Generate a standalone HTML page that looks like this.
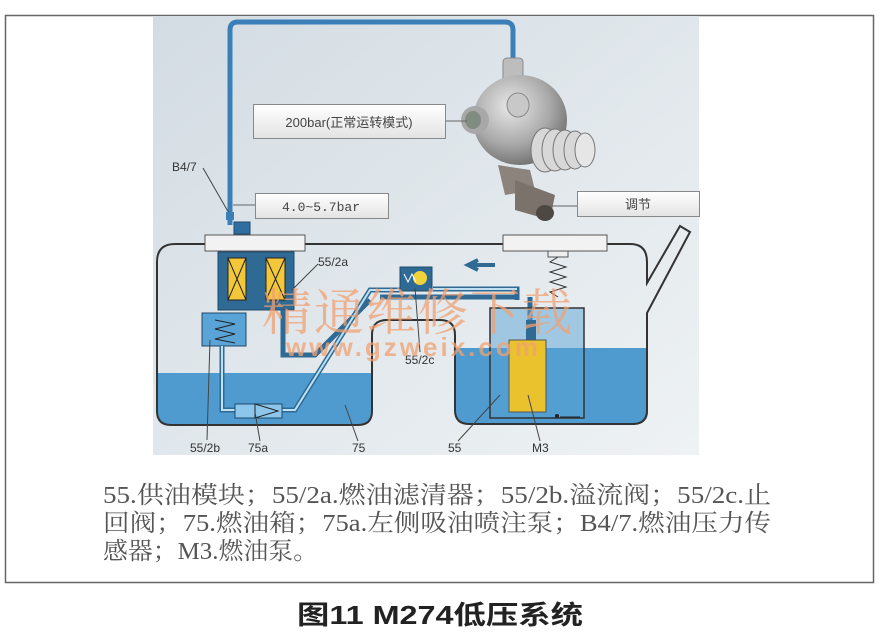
<!DOCTYPE html>
<html><head><meta charset="utf-8"><style>
body{margin:0;width:880px;height:637px;background:#fff;overflow:hidden;font-family:"Liberation Sans","Noto Sans CJK SC",sans-serif}
</style></head><body>
<svg width="880" height="637" viewBox="0 0 880 637" xmlns="http://www.w3.org/2000/svg" style="position:absolute;left:0;top:0">
<defs>
<linearGradient id="bg" x1="0" y1="0" x2="1" y2="1"><stop offset="0" stop-color="#d3dce3"/><stop offset="1" stop-color="#eef2f4"/></linearGradient>
<linearGradient id="box" x1="0" y1="0" x2="0" y2="1"><stop offset="0" stop-color="#ffffff"/><stop offset="1" stop-color="#e3e3e3"/></linearGradient>
<radialGradient id="metal" cx="0.4" cy="0.35" r="0.7"><stop offset="0" stop-color="#e8e8e8"/><stop offset="0.6" stop-color="#a9a9a9"/><stop offset="1" stop-color="#6c6c6c"/></radialGradient>
</defs>
<rect x="5.5" y="15.5" width="868" height="567" fill="#fff" stroke="#666" stroke-width="1.5"/>
<rect x="153" y="16" width="546" height="439" fill="url(#bg)"/>
<path d="M230 225 V30 Q230 22 238 22 H505 Q513 22 513 30 V62" fill="none" stroke="#3a7fb8" stroke-width="5"/>
<rect x="503" y="58" width="20" height="24" rx="4" fill="#bdbdbd" stroke="#8a8a8a"/>
<ellipse cx="520" cy="120" rx="47" ry="45" fill="url(#metal)"/>
<ellipse cx="475" cy="120" rx="14" ry="14" fill="#a8a8a8"/><ellipse cx="473" cy="120" rx="8" ry="9" fill="#7f8c80"/>
<ellipse cx="518" cy="105" rx="11" ry="12" fill="#c8c8c8" stroke="#8a8a8a"/>
<g fill="#d8d8d8" stroke="#777"><ellipse cx="545" cy="150" rx="14" ry="22"/><ellipse cx="555" cy="150" rx="13" ry="21"/><ellipse cx="565" cy="150" rx="12" ry="20"/><ellipse cx="575" cy="150" rx="11" ry="19"/><ellipse cx="585" cy="150" rx="10" ry="17" fill="#e6e6e6"/></g>
<path d="M498 165 L530 170 L535 190 L505 195 Z" fill="#8c847c"/>
<path d="M515 180 L555 195 L550 220 L515 210 Z" fill="#7a726b"/>
<ellipse cx="545" cy="213" rx="9" ry="8" fill="#4e4843"/>
<line x1="445" y1="121" x2="467" y2="121" stroke="#666"/>
<rect x="253.5" y="104.5" width="192" height="34" fill="url(#box)" stroke="#888"/>
<text x="349" y="127" font-size="13" text-anchor="middle" fill="#444" font-family="Liberation Sans,Noto Sans CJK SC,sans-serif">200bar(正常运转模式)</text>
<line x1="233" y1="205" x2="255" y2="205" stroke="#666"/>
<rect x="255.5" y="193.5" width="133" height="25" fill="url(#box)" stroke="#888"/>
<text x="321" y="211" font-size="13" text-anchor="middle" fill="#444" font-family="Liberation Mono,monospace">4.0~5.7bar</text>
<line x1="550" y1="206" x2="577" y2="206" stroke="#666"/>
<rect x="577.5" y="191.5" width="122" height="25" fill="url(#box)" stroke="#888"/>
<text x="638" y="209" font-size="13" text-anchor="middle" fill="#444" font-family="Noto Sans CJK SC,sans-serif">调节</text>
<text x="172" y="171" font-size="12" fill="#333">B4/7</text>
<line x1="203" y1="168" x2="230" y2="215" stroke="#444"/>
<rect x="226" y="212" width="8" height="8" fill="#3a7fb8"/>
<rect x="234" y="222" width="16" height="12" fill="#2f6e9e" stroke="#1f4a6a"/>
<path d="M157 373 H372 V412 Q372 425 358 425 H171 Q157 425 157 412 Z" fill="#4f9bcf"/>
<path d="M455 348 H648 V412 Q648 424 634 424 H469 Q455 424 455 412 Z" fill="#4f9bcf"/>
<path d="M157 262 Q157 244 175 244 H630 Q647 244 647 262 V283 L680 226 L690 232 L647 313 V410 Q647 424 633 424 H469 Q455 424 455 410 V335 Q455 320 440 320 H387 Q372 320 372 335 V411 Q372 425 358 425 H171 Q157 425 157 411 Z" fill="none" stroke="#333" stroke-width="2"/>
<rect x="205" y="235" width="100" height="16" fill="#f2f2f2" stroke="#555"/>
<rect x="503" y="235" width="104" height="16" fill="#f2f2f2" stroke="#555"/>
<rect x="548" y="251" width="20" height="6" fill="#eee" stroke="#555"/>
<path d="M558 257 l-8 5 l16 5 l-16 5 l16 5 l-16 5 l16 5 l-16 5 l8 5" fill="none" stroke="#333"/>
<rect x="218" y="252" width="76" height="58" fill="#2f6a95" stroke="#1f4a6a"/>
<rect x="228" y="258" width="18" height="42" fill="#f2c73a" stroke="#222"/><path d="M228 258 L246 300 M246 258 L228 300" stroke="#222"/>
<rect x="266" y="258" width="19" height="42" fill="#f2c73a" stroke="#222"/><path d="M266 258 L285 300 M285 258 L266 300" stroke="#222"/>
<rect x="202" y="313" width="44" height="33" fill="#5aa3d6" stroke="#1f4a6a"/>
<path d="M215 320 l20 4 l-20 5 l20 5 l-20 5 l20 4" fill="none" stroke="#222"/>
<g fill="none" stroke="#2f6a95" stroke-width="5">
<path d="M222 346 V410 H245"/>
<path d="M282 410 H295 L370 290 H400"/>
<path d="M283 310 V355 H315 L370 300"/>
<path d="M433 289 H517 V300"/>
<path d="M516 297 H380"/>
<path d="M530 297 V340"/>
</g>
<g fill="none" stroke="#bfe0f3" stroke-width="2">
<path d="M222 346 V410 H245"/><path d="M282 410 H295 L370 290 H400"/><path d="M433 289 H517"/>
</g>
<rect x="400" y="267" width="32" height="24" fill="#2f6a95" stroke="#1f4a6a"/>
<circle cx="420" cy="278" r="7" fill="#f2d23a"/>
<path d="M404 274 l4 8 l4 -8 l4 8" fill="none" stroke="#fff"/>
<path d="M495 265 H470 M478 260 L468 265 L478 270" fill="none" stroke="#2f6a95" stroke-width="4"/>
<rect x="235" y="404" width="47" height="14" fill="#8cc6ea" stroke="#1f4a6a"/>
<path d="M255 404 L278 411 L255 418 Z" fill="none" stroke="#222"/>
<rect x="490" y="308" width="94" height="110" fill="#5aa3d6" fill-opacity="0.5" stroke="#333" stroke-width="1.5"/>
<rect x="526" y="320" width="10" height="22" fill="#2f6a95"/>
<rect x="509" y="340" width="37" height="72" fill="#e9c22e" stroke="#555"/>
<line x1="560" y1="417" x2="580" y2="417" stroke="#222"/><circle cx="557" cy="416" r="2" fill="#222"/>
<g font-size="12" fill="#333">
<text x="318" y="266">55/2a</text><line x1="318" y1="264" x2="292" y2="290" stroke="#444"/>
<text x="405" y="364">55/2c</text><line x1="420" y1="352" x2="415" y2="288" stroke="#444"/>
<text x="190" y="452">55/2b</text><line x1="207" y1="440" x2="210" y2="340" stroke="#444"/>
<text x="248" y="452">75a</text><line x1="260" y1="441" x2="255" y2="412" stroke="#444"/>
<text x="352" y="452">75</text><line x1="358" y1="441" x2="345" y2="405" stroke="#444"/>
<text x="448" y="452">55</text><line x1="458" y1="441" x2="500" y2="395" stroke="#444"/>
<text x="532" y="452">M3</text><line x1="540" y1="441" x2="528" y2="395" stroke="#444"/>
</g>
<text x="262" y="330" font-size="50" fill="#f0a070" fill-opacity="0.75" font-family="Noto Serif CJK SC,serif" letter-spacing="2">精通维修下载</text>
<text x="286" y="356" font-size="26" font-weight="bold" fill="#f0a070" fill-opacity="0.75" letter-spacing="3">www.gzweix.com</text>
<g font-size="24" fill="#555" font-family="Liberation Serif,Noto Serif CJK SC,serif">
<text x="103" y="503" textLength="668" lengthAdjust="spacingAndGlyphs">55.供油模块；55/2a.燃油滤清器；55/2b.溢流阀；55/2c.止</text>
<text x="103" y="531" textLength="668" lengthAdjust="spacingAndGlyphs">回阀；75.燃油箱；75a.左侧吸油喷注泵；B4/7.燃油压力传</text>
<text x="103" y="559" textLength="215" lengthAdjust="spacingAndGlyphs">感器；M3.燃油泵。</text>
</g>
<text x="297" y="624" font-size="26" font-weight="bold" fill="#222" textLength="286" lengthAdjust="spacingAndGlyphs" font-family="Liberation Sans,Noto Sans CJK SC,sans-serif">图11 M274低压系统</text>
</svg>
</body></html>
